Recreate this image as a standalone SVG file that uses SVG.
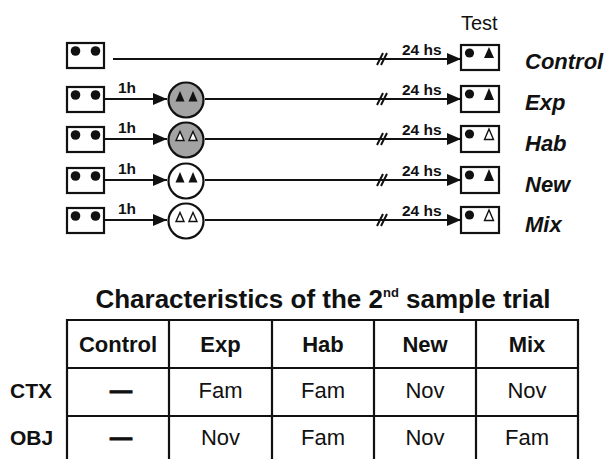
<svg xmlns="http://www.w3.org/2000/svg" width="611" height="459" viewBox="0 0 611 459">
  <defs>
    <marker id="arrow" viewBox="0 0 14 12" refX="14" refY="6" markerWidth="14" markerHeight="12" markerUnits="userSpaceOnUse" orient="auto">
      <path d="M0,0 L14,6 L0,12 Z" fill="#111"/>
    </marker>
  </defs>
  <style>
    .box { fill: #fff; stroke: #111; stroke-width: 2.2; }
    .dot { fill: #111; }
    .line { stroke: #111; stroke-width: 2.2; fill: none; }
    .brk { stroke: #111; stroke-width: 2; }
    .circ-g { fill: #a3a3a3; stroke: #111; stroke-width: 2.2; }
    .circ-w { fill: #fff; stroke: #111; stroke-width: 2.2; }
    .tri-f { fill: #111; }
    .tri-o { fill: #fff; stroke: #111; stroke-width: 1.4; }
    .lbl { font-family: "Liberation Sans", Arial, sans-serif; font-weight: bold; font-size: 15.5px; fill: #111; }
    .grp { font-family: "Liberation Sans", Arial, sans-serif; font-weight: bold; font-style: italic; font-size: 22px; fill: #111; }
    .title { font-family: "Liberation Sans", Arial, sans-serif; font-weight: bold; font-size: 26px; fill: #111; }
    .th { font-family: "Liberation Sans", Arial, sans-serif; font-weight: bold; font-size: 22px; fill: #111; text-anchor: middle; }
    .td { font-family: "Liberation Sans", Arial, sans-serif; font-size: 22px; fill: #111; text-anchor: middle; }
    .rh { font-family: "Liberation Sans", Arial, sans-serif; font-weight: bold; font-size: 21px; fill: #111; }
    .dash { stroke: #111; stroke-width: 1; }
    .grid { stroke: #111; stroke-width: 2.2; fill: none; }
  </style>

  <rect width="611" height="459" fill="#fff"/>

  <text x="461" y="30" font-family="Liberation Sans, Arial, sans-serif" font-size="20" fill="#111">Test</text>

  <!-- connectors -->
  <g id="connectors">
    <line class="line" x1="113" y1="59" x2="461" y2="59" marker-end="url(#arrow)"/>
    <line class="line" x1="104" y1="99" x2="167" y2="99" marker-end="url(#arrow)"/>
    <line class="line" x1="205" y1="99" x2="461" y2="99" marker-end="url(#arrow)"/>
    <line class="line" x1="104" y1="139" x2="167" y2="139" marker-end="url(#arrow)"/>
    <line class="line" x1="205" y1="139" x2="461" y2="139" marker-end="url(#arrow)"/>
    <line class="line" x1="104" y1="180" x2="167" y2="180" marker-end="url(#arrow)"/>
    <line class="line" x1="205" y1="180" x2="461" y2="180" marker-end="url(#arrow)"/>
    <line class="line" x1="104" y1="220" x2="167" y2="220" marker-end="url(#arrow)"/>
    <line class="line" x1="205" y1="220" x2="461" y2="220" marker-end="url(#arrow)"/>
    <!-- time-break marks -->
    <g id="breaks">
      <path class="brk" d="M377,65 L383,53 M381,65 L387,53"/>
      <path class="brk" d="M377,105 L383,93 M381,105 L387,93"/>
      <path class="brk" d="M377,145 L383,133 M381,145 L387,133"/>
      <path class="brk" d="M377,186 L383,174 M381,186 L387,174"/>
      <path class="brk" d="M377,226 L383,214 M381,226 L387,214"/>
    </g>
    <text class="lbl" x="402" y="55">24 hs</text>
    <text class="lbl" x="402" y="95">24 hs</text>
    <text class="lbl" x="402" y="135">24 hs</text>
    <text class="lbl" x="402" y="176">24 hs</text>
    <text class="lbl" x="402" y="216">24 hs</text>
    <text class="lbl" x="118" y="93">1h</text>
    <text class="lbl" x="118" y="133">1h</text>
    <text class="lbl" x="118" y="174">1h</text>
    <text class="lbl" x="118" y="214">1h</text>
  </g>

  <!-- Control row -->
  <g id="control-start">
    <rect class="box" x="67" y="43" width="37" height="25"/>
    <circle class="dot" cx="75.5" cy="51" r="4.8"/>
    <circle class="dot" cx="95.5" cy="51" r="4.8"/>
  </g>
  <g id="control-test">
    <rect class="box" x="461" y="45" width="38" height="25"/>
    <circle class="dot" cx="469.5" cy="53" r="4.6"/>
    <path class="tri-f" d="M489,47 L494,58 L484,58 Z"/>
  </g>
  <text class="grp" x="525" y="69">Control</text>

  <!-- Exp row -->
  <g id="exp-start">
    <rect class="box" x="67" y="87" width="37" height="25"/>
    <circle class="dot" cx="75.5" cy="95" r="4.8"/>
    <circle class="dot" cx="95.5" cy="95" r="4.8"/>
  </g>
  <g id="exp-sample">
    <circle class="circ-g" cx="186" cy="100" r="17.5"/>
    <path class="tri-f" d="M180,91 L184.5,101.5 L175.5,101.5 Z"/>
    <path class="tri-f" d="M193,91 L197.5,101.5 L188.5,101.5 Z"/>
  </g>
  <g id="exp-test">
    <rect class="box" x="461" y="86" width="38" height="26"/>
    <circle class="dot" cx="469.5" cy="94" r="4.6"/>
    <path class="tri-f" d="M489,88 L494,100 L484,100 Z"/>
  </g>
  <text class="grp" x="525" y="110">Exp</text>

  <!-- Hab row -->
  <g id="hab-start">
    <rect class="box" x="67" y="127" width="37" height="25"/>
    <circle class="dot" cx="75.5" cy="135" r="4.8"/>
    <circle class="dot" cx="95.5" cy="135" r="4.8"/>
  </g>
  <g id="hab-sample">
    <circle class="circ-g" cx="186" cy="140" r="17.5"/>
    <path class="tri-o" d="M180,131.5 L184,140.5 L176,140.5 Z"/>
    <path class="tri-o" d="M193,131.5 L197,140.5 L189,140.5 Z"/>
  </g>
  <g id="hab-test">
    <rect class="box" x="461" y="126" width="38" height="26"/>
    <circle class="dot" cx="469.5" cy="134" r="4.6"/>
    <path class="tri-o" d="M489,129 L493.5,139.5 L484.5,139.5 Z"/>
  </g>
  <text class="grp" x="525" y="151">Hab</text>

  <!-- New row -->
  <g id="new-start">
    <rect class="box" x="67" y="168" width="37" height="25"/>
    <circle class="dot" cx="75.5" cy="176" r="4.8"/>
    <circle class="dot" cx="95.5" cy="176" r="4.8"/>
  </g>
  <g id="new-sample">
    <circle class="circ-w" cx="186" cy="181" r="17.5"/>
    <path class="tri-f" d="M180,172 L184.5,182.5 L175.5,182.5 Z"/>
    <path class="tri-f" d="M193,172 L197.5,182.5 L188.5,182.5 Z"/>
  </g>
  <g id="new-test">
    <rect class="box" x="461" y="167" width="38" height="26"/>
    <circle class="dot" cx="469.5" cy="175" r="4.6"/>
    <path class="tri-f" d="M489,169 L494,181 L484,181 Z"/>
  </g>
  <text class="grp" x="525" y="192">New</text>

  <!-- Mix row -->
  <g id="mix-start">
    <rect class="box" x="67" y="208" width="37" height="25"/>
    <circle class="dot" cx="75.5" cy="216" r="4.8"/>
    <circle class="dot" cx="95.5" cy="216" r="4.8"/>
  </g>
  <g id="mix-sample">
    <circle class="circ-w" cx="186" cy="221" r="17.5"/>
    <path class="tri-o" d="M180,212.5 L184,221.5 L176,221.5 Z"/>
    <path class="tri-o" d="M193,212.5 L197,221.5 L189,221.5 Z"/>
  </g>
  <g id="mix-test">
    <rect class="box" x="461" y="207" width="38" height="26"/>
    <circle class="dot" cx="469.5" cy="215" r="4.6"/>
    <path class="tri-o" d="M489,210 L493.5,220.5 L484.5,220.5 Z"/>
  </g>
  <text class="grp" x="525" y="232">Mix</text>

  <!-- table of the second sample trial -->
  <g id="table">
    <text class="title" x="323" y="308" text-anchor="middle">Characteristics of the 2<tspan font-size="13" dy="-11">nd</tspan><tspan dy="11"> sample trial</tspan></text>
    <path class="grid" d="M67,320 H578 M67,368 H578 M67,416 H578 M67,319 V462 M169,319 V462 M272,319 V462 M374,319 V462 M476,319 V462 M578,319 V462"/>
    <text class="th" x="118" y="352">Control</text>
    <text class="th" x="220.5" y="352">Exp</text>
    <text class="th" x="323" y="352">Hab</text>
    <text class="th" x="425" y="352">New</text>
    <text class="th" x="527" y="352">Mix</text>
    <text class="rh" x="10" y="398">CTX</text>
    <text class="rh" x="10" y="445">OBJ</text>
    <text class="th dash" x="121" y="398" font-size="19">—</text>
    <text class="td" x="220.5" y="398">Fam</text>
    <text class="td" x="323" y="398">Fam</text>
    <text class="td" x="425" y="398">Nov</text>
    <text class="td" x="527" y="398">Nov</text>
    <text class="th dash" x="121" y="445" font-size="19">—</text>
    <text class="td" x="220.5" y="445">Nov</text>
    <text class="td" x="323" y="445">Fam</text>
    <text class="td" x="425" y="445">Nov</text>
    <text class="td" x="527" y="445">Fam</text>
  </g>
</svg>
